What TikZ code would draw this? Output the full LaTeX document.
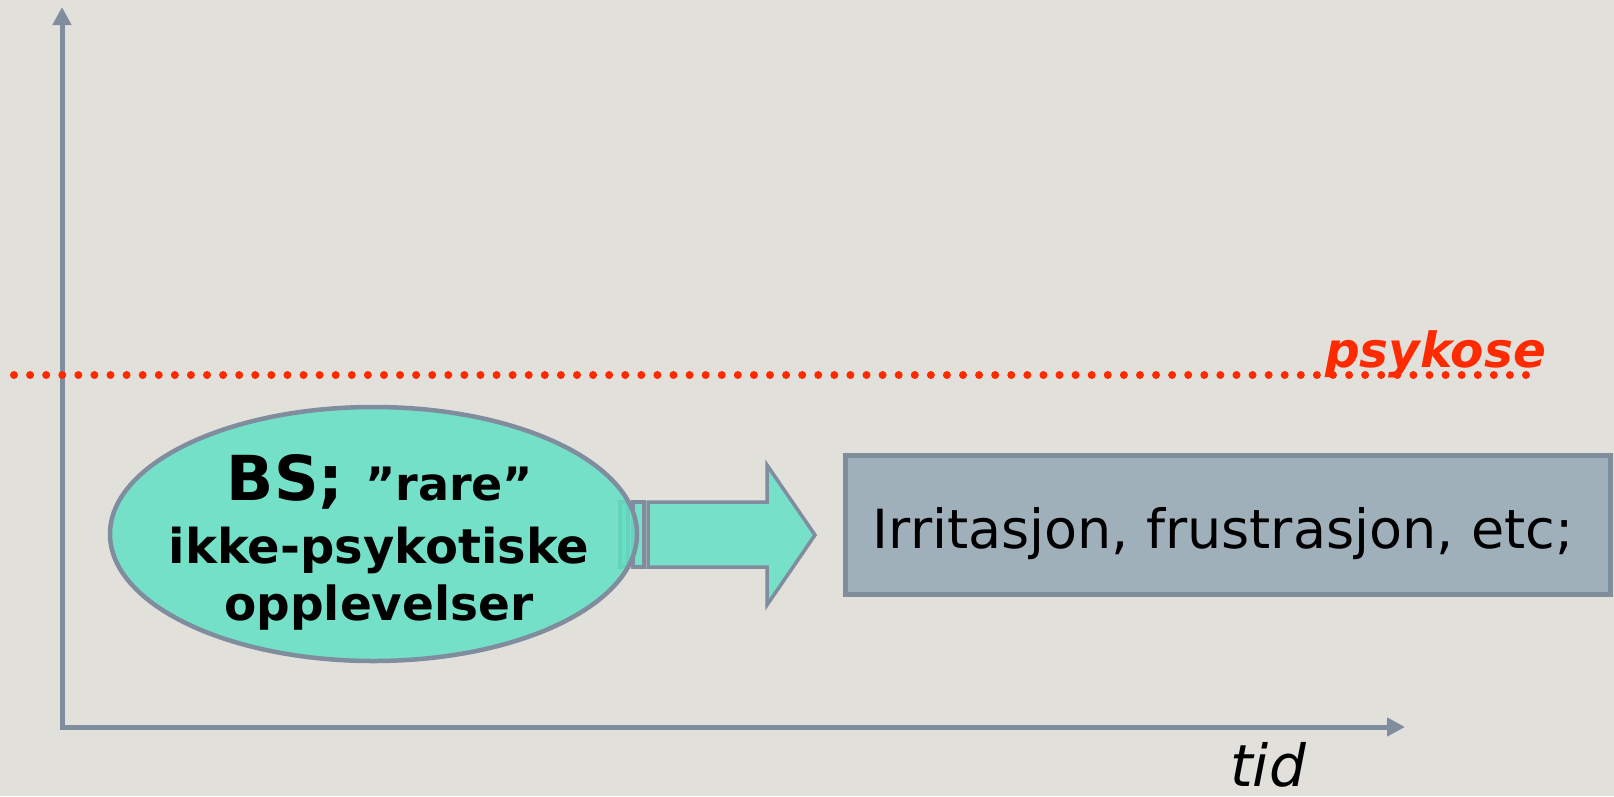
\documentclass[tikz,border=0pt]{standalone}
\usepackage{fontspec}
\setmainfont{DejaVu Sans}
\usetikzlibrary{arrows.meta,shapes.geometric}
\definecolor{bg}{RGB}{226,224,219}
\definecolor{axiscol}{RGB}{128,141,158}
\definecolor{tealfill}{RGB}{118,224,200}
\definecolor{tealbase}{RGB}{99,224,197}
\definecolor{boxfill}{RGB}{160,176,187}
\definecolor{boxline}{RGB}{128,142,155}
\definecolor{psyred}{RGB}{255,42,0}
\tikzset{
  axisline/.style={draw=axiscol, line width=5pt, line join=miter,
    {Triangle[length=18pt,width=18pt]}-{Triangle[length=18pt,width=18pt]}},
  blockarrow/.style={draw=axiscol, line width=3.5pt, fill=tealfill, line join=miter},
  txt/.style={inner sep=0pt, anchor=base},
}
\begin{document}
\begin{tikzpicture}[x=1pt,y=-1pt]
\useasboundingbox (0,0) rectangle (1614,796);
\fill[bg] (0,0) rectangle (1614,796);

% axes
\coordinate (ytop) at (62,7);
\coordinate (origin) at (62,727);
\coordinate (xend) at (1405,727);
\draw[axisline] (ytop) -- (origin) -- (xend);

% psychosis threshold
\coordinate (dl) at (14,375);
\coordinate (dr) at (1530,375);
\draw[psyred, line width=8pt, line cap=round, dash pattern=on 0pt off 16.085pt] (dl) -- (dr);
\node[txt, anchor=base west, font=\bfseries\itshape\fontsize{48.5}{48.5}\selectfont, text=psyred] (psy) at (1325,367) {psykose};

% striped block arrow
\draw[blockarrow] (620,502) rectangle (628,567);
\draw[blockarrow] (633,502) rectangle (644,567);
\draw[blockarrow] (648,502) -- (767,502) -- (767,465) -- (815,535) -- (767,605) -- (767,567) -- (648,567) -- cycle;

% ellipse
\node[ellipse, draw=axiscol, line width=4.5pt, fill=tealbase, fill opacity=0.85, minimum width=527pt, minimum height=254pt, inner sep=0pt] (ell) at (373.5,534) {};
\node[txt, font=\bfseries] (l1) at (380,500) {\fontsize{62}{62}\selectfont BS; \fontsize{46}{46}\selectfont ”rare”};
\node[txt, font=\bfseries\fontsize{48}{48}\selectfont] (l2) at (379,563) {ikke-psykotiske};
\node[txt, font=\bfseries\fontsize{47}{47}\selectfont] (l3) at (379,620) {opplevelser};

% box
\node[draw=boxline, fill=boxfill, line width=5pt, minimum width=765pt, minimum height=139pt, inner sep=0pt] (box) at (1228,525) {};
\node[txt, font=\fontsize{54}{54}\selectfont] (irr) at (1223,548) {Irritasjon, frustrasjon, etc;};

% time label
\node[txt, anchor=base west, font=\itshape\fontsize{58}{58}\selectfont] (tid) at (1230,786) {tid};
\end{tikzpicture}
\end{document}
